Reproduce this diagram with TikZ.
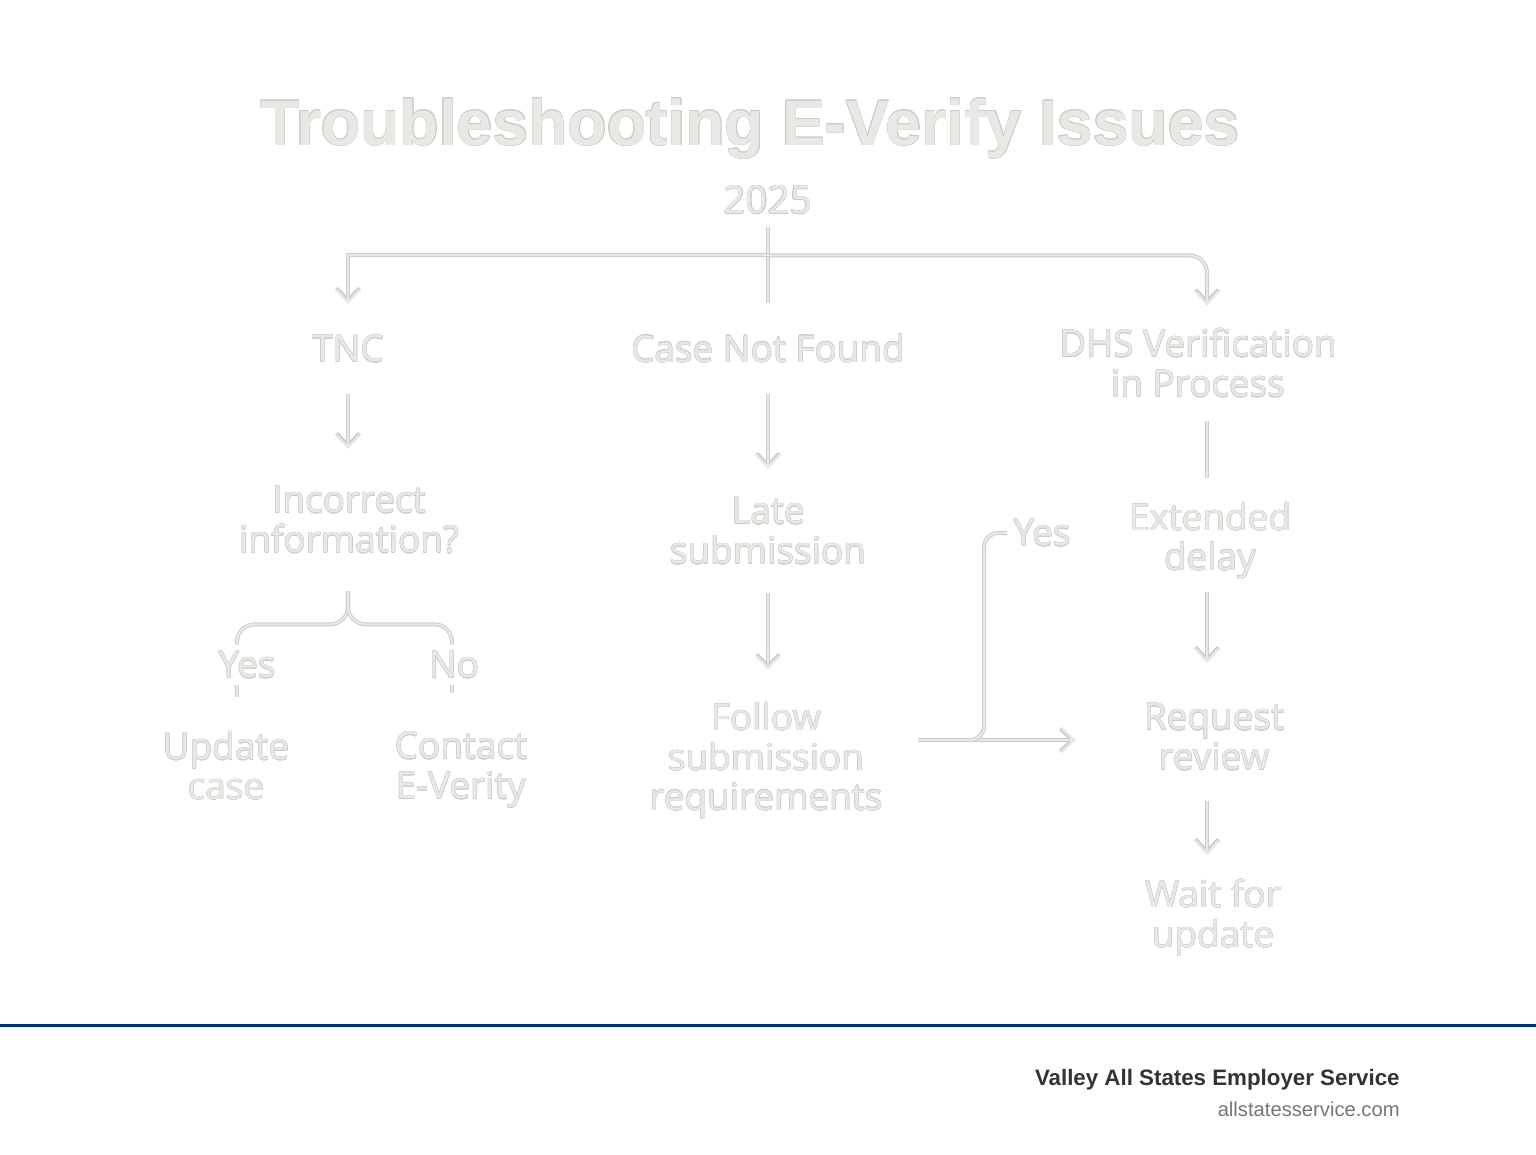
\documentclass[tikz,border=0pt]{standalone}
\usepackage{fontspec}
\setmainfont{Open Sans}
\newfontfamily\titlefont{Liberation Sans}
\newfontfamily\footfont{Liberation Sans}
\usepackage{contour}
\usetikzlibrary{arrows.meta,calc,positioning}
\definecolor{embfill}{RGB}{234,232,228}
\definecolor{embedge}{RGB}{206,204,200}
\definecolor{footblue}{RGB}{0,51,112}
\definecolor{footdark}{RGB}{51,51,51}
\definecolor{footgray}{RGB}{117,117,117}
\newdimen\pxu \pxu=0.02cm
\contourlength{0.22pt}
\newcommand{\emb}[1]{\contour{embedge}{#1}}
\tikzset{
  lbl/.style={font=\fontsize{21pt}{22.7pt}\selectfont, text=embfill, align=center, inner sep=0pt},
  pipe/.style={draw=embfill, line width=1.2pt, preaction={draw=embedge, line width=2.3pt}},
  tip/.style={-{Straight Barb[length=7pt,width=13pt]}},
}

\begin{document}
\begin{tikzpicture}[x=0.02cm,y=-0.02cm]
\useasboundingbox (0,0) rectangle (1536,1154);
% titre et annee
\node[anchor=base, text=embfill, inner sep=0pt, font=\titlefont\bfseries\fontsize{36.6pt}{40pt}\selectfont](title)at(750,145){\emb{Troubleshooting E-Verify Issues}};
\node[lbl, font=\fontsize{22pt}{24pt}\selectfont, minimum height=54\pxu](year)at(768,200){\emb{2025}};
% trois cas
\node[lbl, minimum height=90\pxu](tnc)at(348,349){\emb{TNC}};
\node[lbl, minimum height=91\pxu](cnf)at(768,348.5){\emb{Case Not Found}};
\node[lbl, minimum height=115\pxu](dhs)at(1198,363){\emb{DHS Verification}\\\emb{in Process}};
% deuxieme niveau
\node[lbl, minimum height=142\pxu](incorrect)at(349,520){\emb{Incorrect}\\\emb{information?}};
\node[lbl, minimum height=124\pxu](late)at(768,531){\emb{Late}\\\emb{submission}};
\node[lbl, minimum height=126\pxu](delay)at(1210,541){\emb{Extended}\\\emb{delay}};
\node[lbl, minimum height=40\pxu](yes1)at(247,665){\emb{Yes}};
\node[lbl, minimum height=40\pxu](no1)at(454,665){\emb{No}};
\node[lbl](yes2)at(1042,533){\emb{Yes}};
% troisieme niveau
\node[lbl, minimum height=138\pxu](update)at(226,766){\emb{Update}\\\emb{case}};
\node[lbl, minimum height=154\pxu](contact)at(461,770){\emb{Contact}\\\emb{E-Verity}};
\node[lbl, minimum height=182\pxu](follow)at(766,761){\emb{Follow}\\\emb{submission}\\\emb{requirements}};
\node[lbl, minimum height=148\pxu](request)at(1214,737){\emb{Request}\\\emb{review}};
\node[lbl, minimum height=126\pxu](wait)at(1213,918){\emb{Wait for}\\\emb{update}};
% liaisons
\coordinate(hub)at($(year.south)+(0,28)$);
\draw[pipe](year.south)--(cnf.north);
\draw[pipe,tip](hub)-|(tnc.north);
\draw[pipe,tip,rounded corners=10pt](hub)-|([xshift=9\pxu]dhs.north);
\draw[pipe,tip](tnc.south)--(tnc.south|-incorrect.north);
\draw[pipe,tip](cnf.south)--(late.north);
\draw[pipe]([xshift=9\pxu]dhs.south)--([xshift=9\pxu]dhs.south|-delay.north);
\draw[pipe,rounded corners=10pt]([xshift=-1\pxu]incorrect.south)--++(0,33)-|([xshift=-10\pxu]yes1.north);
\draw[pipe,rounded corners=10pt]([xshift=-1\pxu]incorrect.south)--++(0,33)-|([xshift=-2\pxu]no1.north);
\draw[pipe]([xshift=-10\pxu]yes1.south)--([xshift=-10\pxu]yes1.south|-update.north);
\draw[pipe]([xshift=-2\pxu]no1.south)--([xshift=-2\pxu]no1.south|-contact.north);
\draw[pipe,tip](late.south)--(late.south|-follow.north);
\draw[pipe,tip,shorten <=-12\pxu]([xshift=-3\pxu]delay.south)--([xshift=-3\pxu]delay.south|-request.north);
\draw[pipe,tip,shorten <=-10\pxu]([xshift=-7\pxu]request.south)--([xshift=-7\pxu]request.south|-wait.north);
\coordinate(fe)at([yshift=21\pxu]follow.east);
\draw[pipe,tip,shorten <=35\pxu,shorten >=68\pxu](fe)--(request.west|-fe);
\draw[pipe,rounded corners=8pt]($(fe)+(88,0)$)-|([xshift=-29\pxu]yes2.west)--([xshift=-6\pxu]yes2.west);
% pied de page
\draw[footblue, line width=3\pxu](0,1025)--(1536,1025);
\node[anchor=base east, inner sep=0pt, text=footdark, font=\footfont\bfseries\fontsize{12.7pt}{14pt}\selectfont](brand)at(1400,1085){Valley All States Employer Service};
\node[anchor=base east, inner sep=0pt, text=footgray, font=\footfont\fontsize{11.5pt}{13pt}\selectfont](site)at(1400,1116){allstatesservice.com};
\end{tikzpicture}
\end{document}
